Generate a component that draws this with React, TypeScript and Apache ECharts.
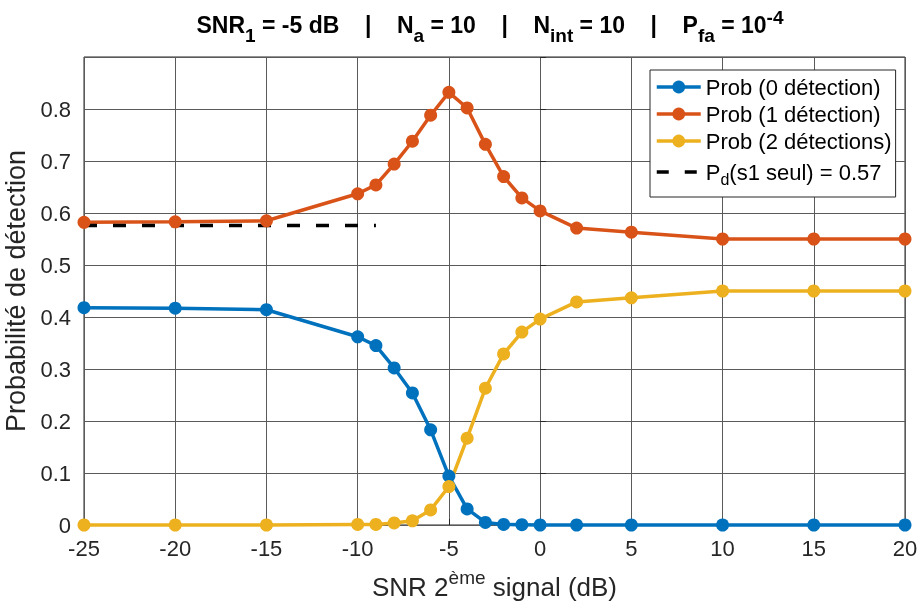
import React, { useEffect, useRef } from "react";
import * as echarts from "echarts";

const snr2 = [-25, -20, -15, -10, -9, -8, -7, -6, -5, -4, -3, -2, -1, 0, 2, 5, 10, 15, 20];
const prob0 = [0.418, 0.417, 0.414, 0.362, 0.345, 0.302, 0.254, 0.183, 0.094, 0.031, 0.005, 0.001, 0.0005, 0, 0, 0, 0, 0, 0];
const prob1 = [0.582, 0.583, 0.585, 0.637, 0.654, 0.694, 0.738, 0.788, 0.832, 0.802, 0.732, 0.670, 0.629, 0.604, 0.571, 0.563, 0.55, 0.55, 0.55];
const prob2 = [0, 0, 0, 0.001, 0.001, 0.004, 0.008, 0.029, 0.074, 0.167, 0.263, 0.329, 0.371, 0.396, 0.429, 0.437, 0.45, 0.45, 0.45];
const pdSeulX = [-25, -9];
const pdSeul = 0.576;
const xTicks = [-25, 20, 5];
const yTicks = [0, 0.9, 0.1];
const legendNames = ["Prob (0 détection)", "Prob (1 détection)", "Prob (2 détections)", "Pd(s1 seul) = 0.57"];

const FONT = "Liberation Sans";
const COLORS = ["#0072BD", "#D95319", "#EDB120"];
const INK = "#262626";

export default function App() {
  const ref = useRef<HTMLDivElement>(null);
  useEffect(() => {
    const chart = echarts.init(ref.current!, null, { renderer: "svg" });
    const mk = (name: string, vals: number[], color: string) => ({
      name,
      type: "line",
      data: snr2.map((x, i) => [x, vals[i]]),
      symbol: "circle",
      symbolSize: 13,
      clip: false,
      lineStyle: { color, width: 3.5 },
      itemStyle: { color },
    });
    chart.setOption({
      animation: false,
      textStyle: { fontFamily: FONT },
      grid: {
        left: 84, right: 15, top: 57, bottom: 82, show: true, borderColor: INK, borderWidth: 1,
        containLabel: false, outerBoundsMode: "none",
      },
      xAxis: {
        type: "value",
        min: xTicks[0],
        max: xTicks[1],
        interval: xTicks[2],
        name: "{n|SNR 2}{sup|ème}{n| signal (dB)}",
        nameLocation: "middle",
        nameGap: 43,
        nameTextStyle: {
          fontSize: 26, color: INK, fontFamily: FONT,
          rich: {
            n: { fontSize: 26, color: INK, fontFamily: FONT },
            sup: { fontSize: 19, color: INK, fontFamily: FONT, padding: [0, 0, 18, 0] },
          },
        },
        axisLine: { show: false },
        axisTick: { show: true, inside: true, length: 6, lineStyle: { color: INK } },
        axisLabel: { fontSize: 22, color: INK, margin: 12, fontFamily: FONT },
        splitLine: { show: true, lineStyle: { color: "#5a5a5a", width: 1 } },
      },
      yAxis: {
        type: "value",
        min: yTicks[0],
        max: yTicks[1],
        interval: yTicks[2],
        name: "Probabilité de détection",
        nameLocation: "middle",
        nameGap: 53,
        nameTextStyle: { fontSize: 27, color: INK, fontFamily: FONT },
        axisLine: { show: false },
        axisTick: { show: true, inside: true, length: 6, lineStyle: { color: INK } },
        axisLabel: {
          fontSize: 22, color: INK, margin: 13, fontFamily: FONT,
          formatter: (v: number) => (v > 0.85 ? "" : String(Math.round(v * 10) / 10)),
        },
        splitLine: { show: true, lineStyle: { color: "#5a5a5a", width: 1 } },
      },
      legend: {
        orient: "vertical",
        left: 650,
        top: 70,
        padding: [6, 4, 10, 5],
        itemGap: 5,
        itemWidth: 44,
        itemHeight: 16,
        backgroundColor: "#ffffff",
        borderColor: INK,
        borderWidth: 1,
        borderRadius: 0,
        textStyle: {
          fontSize: 22, color: "#000", fontFamily: FONT, lineHeight: 22,
          rich: {
            n: { fontSize: 22, color: "#000", fontFamily: FONT, lineHeight: 22 },
            sub: { fontSize: 16, color: "#000", fontFamily: FONT, lineHeight: 8, padding: [14, 0, 0, 0] },
          },
        },
        formatter: (name: string) =>
          name.startsWith("Pd") ? "{n|P}{sub|d}{n|(s1 seul) = 0.57}" : name,
        data: [
          { name: legendNames[0], lineStyle: { width: 3.5 } },
          { name: legendNames[1], lineStyle: { width: 3.5 } },
          { name: legendNames[2], lineStyle: { width: 3.5 } },
          { name: legendNames[3], itemStyle: { opacity: 0 }, lineStyle: { type: [12, 16], width: 3.5, color: "#000" } },
        ],
      },
      series: [
        mk(legendNames[0], prob0, COLORS[0]),
        mk(legendNames[1], prob1, COLORS[1]),
        mk(legendNames[2], prob2, COLORS[2]),
        {
          name: legendNames[3],
          type: "line",
          data: pdSeulX.map((x) => [x, pdSeul]),
          symbol: "none",
          clip: false,
          lineStyle: { color: "#000", width: 3.5, type: [13, 16] },
          itemStyle: { color: "#000" },
        },
      ],
      graphic: [
        {
          type: "text",
          x: 490,
          y: 25,
          style: {
            text: "{b|SNR}{s|1}{b| = -5 dB    |    N}{s|a}{b| = 10    |    N}{s|int}{b| = 10    |    P}{s|fa}{b| = 10}{p|-4}",
            align: "center",
            verticalAlign: "middle",
            rich: {
              b: { fontSize: 23, fontWeight: "bold", fill: "#000", fontFamily: FONT },
              s: { fontSize: 19, fontWeight: "bold", fill: "#000", fontFamily: FONT, padding: [21, 0, 0, 0] },
              p: { fontSize: 19, fontWeight: "bold", fill: "#000", fontFamily: FONT, padding: [0, 0, 15, 0] },
            },
          },
        },
      ],
    });
    return () => chart.dispose();
  }, []);
  return <div ref={ref} style={{ position: "fixed", left: 0, top: 0, width: 920, height: 607 }} />;
}
